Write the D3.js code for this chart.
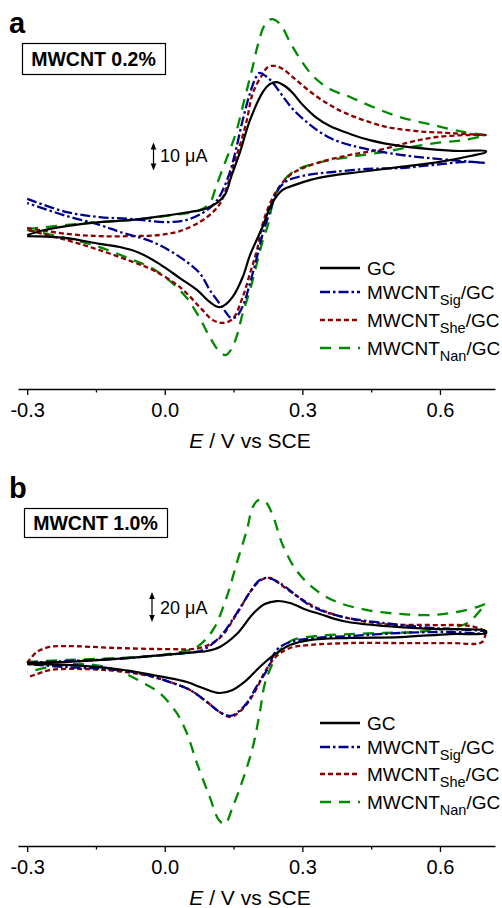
<!DOCTYPE html>
<html><head><meta charset="utf-8">
<script src="https://cdn.jsdelivr.net/npm/d3@7"></script>
<style>html,body{margin:0;padding:0;background:#fff;}svg{display:block;}</style>
</head><body>
<svg id="chart" width="502" height="908"></svg>
<script>
// ---------- data ----------
const seriesNames = ["GC", "MWCNT_Sig/GC", "MWCNT_She/GC", "MWCNT_Nan/GC"];
const legendMain = ["GC", "MWCNT", "MWCNT", "MWCNT"];
const legendSub = ["", "Sig", "She", "Nan"];
const legendTail = ["", "/GC", "/GC", "/GC"];
const xTicks = [-0.3, 0.0, 0.3, 0.6];
const xMinorTicks = [-0.15, 0.15, 0.45];
const panelLabels = ["a", "b"];
const boxLabels = ["MWCNT 0.2%", "MWCNT 1.0%"];
const scaleBars = [10, 20]; // µA
const scaleUnit = "μA";

// Panel a (MWCNT 0.2%) — potential E (V) and current I (µA, arbitrary zero)
const aGC_E = [-0.3,-0.262,-0.214,-0.142,-0.070,-0.004,0.055,0.087,0.113,0.131,0.146,0.164,0.186,0.214,0.229,0.244,0.262,0.279,0.301,0.329,0.360,0.404,0.447,0.513,0.578,0.644,0.7,
  0.7,0.666,0.600,0.513,0.425,0.360,0.316,0.284,0.257,0.233,0.214,0.186,0.170,0.148,0.127,0.116,0.098,0.070,0.033,-0.011,-0.055,-0.098,-0.142,-0.214,-0.3];
const aGC_I = [0,1.8,3.2,4.6,5.4,6.8,8.2,9.3,11.4,14.3,21.4,29.6,41.1,51.1,53.9,54.6,53.2,50.7,46.4,42.1,38.9,36.1,33.9,31.8,30.7,30.0,30.0,
  29.6,28.2,26.1,24.3,22.5,21.1,19.6,17.9,16.1,11.1,3.2,-7.1,-15.0,-22.1,-25.4,-25.7,-23.9,-19.6,-15.4,-10.4,-6.4,-4.3,-3.2,-1.1,-0.4];

const aSig_E = [-0.3,-0.214,-0.142,-0.070,0.004,0.048,0.083,0.103,0.120,0.142,0.155,0.170,0.186,0.199,0.207,0.220,0.236,0.257,0.279,0.312,0.356,0.404,0.476,0.550,0.622,0.7,
  0.7,0.660,0.585,0.513,0.441,0.367,0.310,0.266,0.247,0.229,0.214,0.201,0.186,0.170,0.155,0.144,0.131,0.120,0.098,0.076,0.033,-0.026,-0.098,-0.142,-0.214,-0.3];
const aSig_I = [12.9,8.2,6.4,5.7,4.6,5.4,7.9,10.4,13.9,22.5,30.4,41.1,50.7,56.4,57.9,56.8,54.3,49.6,45.0,40.0,35.0,32.1,29.6,27.9,26.8,25.7,
  25.7,26.1,25.0,23.9,23.6,22.5,21.4,19.3,16.1,8.2,0.7,-7.9,-17.1,-25.4,-29.3,-29.6,-27.1,-24.6,-19.6,-13.6,-7.9,-2.5,1.1,3.6,6.8,11.4];

const aShe_E = [-0.3,-0.214,-0.142,-0.070,-0.011,0.033,0.076,0.103,0.120,0.137,0.151,0.164,0.179,0.192,0.212,0.225,0.240,0.257,0.279,0.310,0.349,0.393,0.476,0.550,0.622,0.7,
  0.7,0.660,0.593,0.535,0.476,0.404,0.332,0.279,0.251,0.233,0.214,0.201,0.186,0.170,0.148,0.127,0.105,0.076,0.033,-0.026,-0.070,-0.142,-0.214,-0.3];
const aShe_I = [2.5,0.4,-0.4,-0.4,0,1.4,4.6,7.9,11.1,17.9,25.7,32.1,41.1,50.7,57.1,60.0,60.4,59.3,56.4,52.1,47.5,43.6,38.9,37.1,36.4,35.7,
  35.7,35.7,35.0,33.2,30.7,28.6,25.7,22.1,17.5,12.5,4.3,-5.4,-13.6,-22.1,-30.0,-31.4,-30.4,-25.7,-18.6,-12.5,-9.6,-5.4,-1.8,1.8];

const aNan_E = [-0.3,-0.214,-0.142,-0.070,0.004,0.076,0.098,0.113,0.131,0.146,0.157,0.175,0.190,0.203,0.218,0.233,0.251,0.273,0.295,0.323,0.360,0.404,0.454,0.513,0.585,0.651,0.7,
  0.7,0.651,0.593,0.535,0.476,0.404,0.332,0.279,0.251,0.236,0.225,0.214,0.201,0.186,0.170,0.157,0.144,0.133,0.120,0.098,0.076,0.048,0.011,-0.033,-0.070,-0.142,-0.214,-0.3];
const aNan_I = [2.1,3.6,4.6,5.4,6.8,8.9,11.4,17.9,25.7,32.1,37.5,49.3,58.9,67.9,75.0,77.1,75.4,68.9,62.9,56.8,52.1,49.3,45.7,42.1,39.3,36.8,35.7,
  35.7,33.9,32.9,31.4,29.6,27.9,25.7,22.5,17.5,11.8,3.6,-1.8,-10.0,-19.6,-27.9,-36.1,-41.1,-42.9,-41.8,-36.4,-29.6,-22.5,-16.4,-11.4,-8.9,-4.3,-1.1,1.8];

// Panel b (MWCNT 1.0%)
const bGC_E = [-0.3,-0.214,-0.105,-0.026,0.048,0.092,0.120,0.157,0.192,0.218,0.244,0.273,0.310,0.338,0.388,0.476,0.585,0.7,
  0.7,0.622,0.513,0.404,0.316,0.273,0.244,0.207,0.179,0.148,0.120,0.083,0.048,-0.004,-0.061,-0.105,-0.214,-0.3];
const bGC_I = [2.0,2.7,4.7,6.7,8.7,10.0,12.7,21.3,34.7,41.3,43.3,42.0,37.3,34.7,30.0,26.7,24.7,23.3,
  22.0,21.3,19.3,18.7,17.3,14.0,8.7,-0.7,-9.3,-16.0,-18.0,-14.7,-10.7,-7.3,-4.0,-2.0,0.7,1.3];

const bSig_E = [-0.3,-0.214,-0.105,-0.026,0.048,0.083,0.120,0.157,0.186,0.207,0.225,0.251,0.288,0.323,0.388,0.476,0.585,0.7,
  0.7,0.622,0.513,0.404,0.332,0.273,0.244,0.223,0.201,0.179,0.157,0.142,0.120,0.092,0.055,0.011,-0.039,-0.098,-0.214,-0.3];
const bSig_I = [2.0,3.3,4.7,6.7,8.7,10.7,19.3,35.3,49.3,57.3,58.7,55.3,46.7,39.3,32.7,28.7,25.3,22.7,
  22.0,22.7,22.0,20.0,18.7,16.0,10.7,-2.7,-13.3,-24.7,-31.3,-33.3,-30.7,-24.0,-16.0,-10.7,-6.0,-2.7,-0.7,1.3];

const bShe_E = [-0.3,-0.279,-0.251,-0.214,-0.105,0.004,0.076,0.120,0.157,0.186,0.207,0.229,0.257,0.295,0.332,0.388,0.476,0.585,0.666,0.7,
  0.7,0.692,0.622,0.513,0.404,0.316,0.273,0.244,0.218,0.201,0.179,0.157,0.142,0.120,0.092,0.055,0.011,-0.033,-0.105,-0.179,-0.251,-0.284,-0.299];
const bShe_I = [2.0,9.3,12.7,13.3,12.0,11.3,12.0,18.7,34.7,49.3,56.7,58.7,53.3,45.3,38.7,32.7,28.0,27.3,26.7,23.3,
  23.3,16.0,15.3,15.3,15.3,14.0,12.0,6.7,-4.0,-14.7,-25.3,-32.0,-34.0,-30.7,-24.0,-16.0,-10.7,-6.7,-3.3,-2.0,-2.7,-6.0,-7.3];

const bNan_E = [-0.3,-0.214,-0.105,-0.026,0.033,0.070,0.105,0.135,0.157,0.179,0.192,0.205,0.220,0.236,0.257,0.288,0.329,0.375,0.441,0.513,0.585,0.637,0.681,0.7,
  0.694,0.660,0.607,0.550,0.476,0.404,0.332,0.279,0.251,0.229,0.218,0.207,0.192,0.170,0.148,0.131,0.118,0.098,0.070,0.048,0.026,-0.011,-0.039,-0.105,-0.179,-0.251,-0.299];
const bNan_I = [2.7,4.0,5.3,6.7,9.3,12.7,24.0,46.0,68.7,90.7,106.0,110.7,109.3,100.0,80.7,63.3,50.7,42.7,37.3,34.7,34.0,36.0,39.3,41.3,
  39.3,28.7,24.7,22.7,22.0,21.3,20.0,17.3,10.7,-2.7,-12.0,-31.3,-54.0,-76.0,-94.0,-105.3,-102.7,-87.3,-64.7,-44.7,-31.3,-18.0,-12.7,-2.7,1.3,-0.7,-4.0];

const colors = ["#000000", "#00008f", "#8b0000", "#008a00"];
const dashes = [null, "10,3,2.5,3", "5,3", "11,8"];

// ---------- layout ----------
const svg = d3.select("#chart");
const font = "'Liberation Sans', Arial, Helvetica, sans-serif";
const x = d3.scaleLinear().domain([-0.32, 0.72]).range([18, 495]);

const panels = [
  {series: [[aGC_E,aGC_I],[aSig_E,aSig_I],[aShe_E,aShe_I],[aNan_E,aNan_I]],
   y: d3.scaleLinear().domain([-55, 80]).range([389, 11]), axisY: 389,
   labelY: 33, box: {x: 22, y: 43, w: 143, h: 31, ty: 66},
   bar: {x: 153.5, cy: 156.5, tx: 160, ty: 162}, legY: [268, 292, 320, 348]},
  {series: [[bGC_E,bGC_I],[bSig_E,bSig_I],[bShe_E,bShe_I],[bNan_E,bNan_I]],
   y: d3.scaleLinear().domain([-120, 120]).range([846, 486]), axisY: 846,
   labelY: 498, box: {x: 24, y: 508, w: 143, h: 29, ty: 530},
   bar: {x: 152, cy: 607, tx: 160, ty: 614}, legY: [723, 747, 774, 802]}
];

panels.forEach((p, pi) => {
  const g = svg.append("g");
  const line = d3.line().x(d => x(d[0])).y(d => p.y(d[1])).curve(d3.curveCatmullRom.alpha(0.5));
  // draw order: green, red, blue, black on top
  [3, 2, 1, 0].forEach(si => {
    const [E, I] = p.series[si];
    const pts = E.map((e, i) => [e, I[i]]);
    g.append("path").attr("d", line(pts)).attr("fill", "none")
      .attr("stroke", colors[si]).attr("stroke-width", si === 0 ? 2.2 : 2.3)
      .attr("stroke-dasharray", dashes[si]).attr("stroke-linejoin", "round");
  });

  // x axis
  const ax = g.append("g").attr("transform", `translate(0,${p.axisY})`)
    .call(d3.axisBottom(x).tickValues(xTicks).tickSize(6).tickSizeOuter(0).tickFormat(d => d.toFixed(1)));
  ax.select(".domain").attr("stroke-width", 1.3);
  ax.selectAll(".tick line").attr("stroke-width", 1.3);
  ax.selectAll("text").attr("dy", null).attr("y", 28).attr("font-size", 20).attr("font-family", font).attr("fill", "#000");
  const mx = g.append("g").attr("transform", `translate(0,${p.axisY})`)
    .call(d3.axisBottom(x).tickValues(xMinorTicks).tickSize(3.5).tickFormat(""));
  mx.select(".domain").remove();
  mx.selectAll(".tick line").attr("stroke-width", 1.3);

  g.append("text").attr("x", 250).attr("y", p.axisY + 59).attr("text-anchor", "middle")
    .attr("font-family", font).attr("font-size", 21)
    .call(t => { t.append("tspan").attr("font-style", "italic").text("E"); t.append("tspan").text(" / V vs SCE"); });

  // panel letter
  g.append("text").attr("x", 9).attr("y", p.labelY).attr("font-family", font)
    .attr("font-weight", "bold").attr("font-size", 29).text(panelLabels[pi]);

  // box label
  g.append("rect").attr("x", p.box.x + 0.5).attr("y", p.box.y + 0.5).attr("width", p.box.w).attr("height", p.box.h)
    .attr("fill", "#fff").attr("stroke", "#000").attr("stroke-width", 1.2);
  g.append("text").attr("x", p.box.x + p.box.w / 2).attr("y", p.box.ty).attr("text-anchor", "middle")
    .attr("font-family", font).attr("font-weight", "bold").attr("font-size", 19.5).text(boxLabels[pi]);

  // scale bar (double arrow) from y-scale
  const len = Math.abs(p.y(scaleBars[pi]) - p.y(0));
  const y1 = p.bar.cy - len / 2, y2 = p.bar.cy + len / 2, bx = p.bar.x;
  g.append("line").attr("x1", bx).attr("x2", bx).attr("y1", y1 + 4).attr("y2", y2 - 4).attr("stroke", "#000").attr("stroke-width", 1.2);
  g.append("path").attr("d", `M${bx},${y1} L${bx - 2.8},${y1 + 7} L${bx + 2.8},${y1 + 7} Z`).attr("fill", "#000");
  g.append("path").attr("d", `M${bx},${y2} L${bx - 2.8},${y2 - 7} L${bx + 2.8},${y2 - 7} Z`).attr("fill", "#000");
  g.append("text").attr("x", p.bar.tx).attr("y", p.bar.ty).attr("font-family", font).attr("font-size", 18)
    .text(scaleBars[pi] + " " + scaleUnit);

  // legend
  seriesNames.forEach((name, si) => {
    const ly = p.legY[si];
    g.append("line").attr("x1", 320).attr("x2", 360).attr("y1", ly).attr("y2", ly)
      .attr("stroke", colors[si]).attr("stroke-width", 2.4).attr("stroke-dasharray", dashes[si]);
    const t = g.append("text").attr("x", 367).attr("y", ly + 6.5).attr("font-family", font).attr("font-size", 19);
    t.append("tspan").text(legendMain[si]);
    if (legendSub[si]) {
      t.append("tspan").attr("dy", 6).attr("font-size", 14.5).text(legendSub[si]);
      t.append("tspan").attr("dy", -6).text(legendTail[si]);
    }
  });
});
</script>
</body></html>
